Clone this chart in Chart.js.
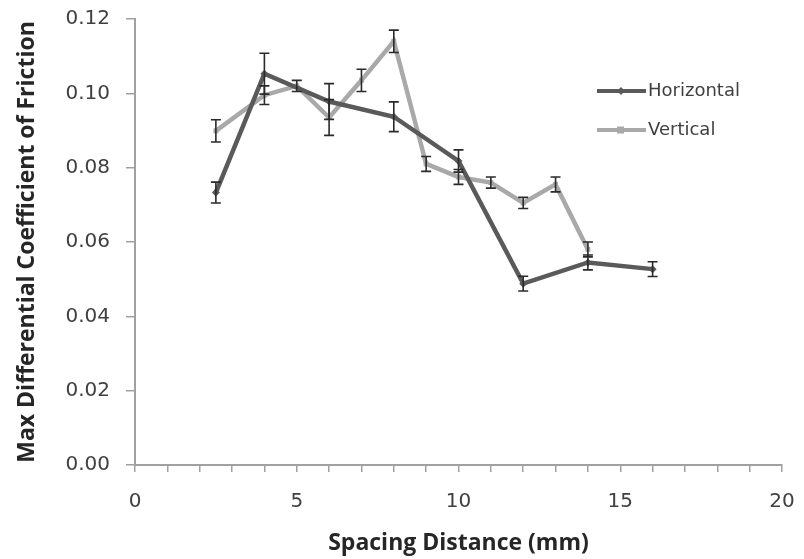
<!DOCTYPE html>
<html>
<head>
<meta charset="utf-8">
<script src="https://cdn.jsdelivr.net/npm/chart.js@4.4.0/dist/chart.umd.min.js"></script>
<style>
  html, body { margin: 0; padding: 0; background: #fff; }
  #wrap { width: 804px; height: 559px; position: relative; }
</style>
</head>
<body>
<div id="wrap"><canvas id="chart"></canvas></div>
<script>
// data
const horizX = [2.5, 4, 6, 8, 10, 12, 14, 16];
const horizY = [0.0733, 0.1053, 0.0978, 0.0937, 0.0818, 0.0488, 0.0545, 0.0527];
const horizErr = [0.0028, 0.0055, 0.0048, 0.0040, 0.0030, 0.0020, 0.0020, 0.0020];

const vertX = [2.5, 4, 5, 6, 7, 8, 9, 10, 11, 12, 13, 14];
const vertY = [0.0899, 0.0995, 0.1020, 0.0935, 0.1035, 0.1140, 0.0810, 0.0775, 0.0760, 0.0705, 0.0755, 0.0580];
const vertErr = [0.0030, 0.0025, 0.0015, 0.0048, 0.0030, 0.0030, 0.0020, 0.0020, 0.0015, 0.0015, 0.0020, 0.0020];

const xTicks = [0, 5, 10, 15, 20];
const yTicks = [0, 0.02, 0.04, 0.06, 0.08, 0.10, 0.12];

const TICK_FONT = "'DejaVu Sans', sans-serif";
const TITLE_FONT = "'Open Sans', sans-serif";
const colors = { Horizontal: "#5a5a5a", Vertical: "#a9a9a9" };

const toPts = (xs, ys) => xs.map((x, i) => ({ x: x, y: ys[i] }));

// error bars drawn from the scales
const errorBars = {
  id: "errorBars",
  afterDatasetsDraw(chart) {
    const ctx = chart.ctx;
    const xs = chart.scales.x, ys = chart.scales.y;
    chart.data.datasets.forEach((ds) => {
      ds.data.forEach((p, i) => {
        const e = ds.errors[i];
        const px = xs.getPixelForValue(p.x);
        const top = ys.getPixelForValue(p.y + e);
        const bot = ys.getPixelForValue(p.y - e);
        ctx.save();
        ctx.strokeStyle = "#2a2a2a";
        ctx.lineWidth = 1.6;
        ctx.beginPath();
        ctx.moveTo(px, top); ctx.lineTo(px, bot);
        ctx.moveTo(px - 5, top); ctx.lineTo(px + 5, top);
        ctx.moveTo(px - 5, bot); ctx.lineTo(px + 5, bot);
        ctx.stroke();
        ctx.restore();
      });
    });
  }
};

// legend sitting inside the plot area like the original
const insideLegend = {
  id: "insideLegend",
  afterDraw(chart) {
    const ctx = chart.ctx;
    const items = [
      { label: "Horizontal", color: colors.Horizontal, style: "rectRot", y: 91 },
      { label: "Vertical", color: colors.Vertical, style: "rect", y: 130 }
    ];
    ctx.save();
    items.forEach((it) => {
      ctx.strokeStyle = it.color;
      ctx.lineWidth = 4;
      ctx.beginPath();
      ctx.moveTo(597, it.y); ctx.lineTo(646, it.y);
      ctx.stroke();
      ctx.fillStyle = it.color;
      if (it.style === "rectRot") {
        ctx.beginPath();
        ctx.moveTo(621, it.y - 4); ctx.lineTo(625, it.y);
        ctx.lineTo(621, it.y + 4); ctx.lineTo(617, it.y);
        ctx.closePath(); ctx.fill();
      } else {
        ctx.fillRect(617, it.y - 3.5, 7, 7);
      }
      ctx.fillStyle = "#404040";
      ctx.font = "18px " + TICK_FONT;
      ctx.textBaseline = "middle";
      ctx.fillText(it.label, 648, it.y);
    });
    ctx.restore();
  }
};

const config = {
  type: "line",
  data: {
    datasets: [
      {
        label: "Horizontal",
        data: toPts(horizX, horizY),
        errors: horizErr,
        borderColor: colors.Horizontal,
        backgroundColor: colors.Horizontal,
        borderWidth: 4.5,
        pointStyle: "rectRot",
        pointRadius: 4,
        pointBorderWidth: 0,
        tension: 0
      },
      {
        label: "Vertical",
        data: toPts(vertX, vertY),
        errors: vertErr,
        borderColor: colors.Vertical,
        backgroundColor: colors.Vertical,
        borderWidth: 4.5,
        pointStyle: "rect",
        pointRadius: 3.5,
        pointBorderWidth: 0,
        tension: 0
      }
    ]
  },
  options: {
    responsive: false,
    animation: false,
    layout: { padding: { top: 19, right: 22, left: 0, bottom: 0 } },
    plugins: {
      legend: { display: false },
      tooltip: { enabled: false }
    },
    scales: {
      x: {
        type: "linear",
        min: 0,
        max: 20,
        afterBuildTicks(scale) {
          const t = [];
          for (let v = 0; v <= 20; v++) t.push({ value: v });
          scale.ticks = t;
        },
        ticks: {
          autoSkip: false,
          maxRotation: 0,
          padding: 18,
          color: "#404040",
          font: { family: TICK_FONT, size: 20 },
          callback: (v) => (xTicks.includes(v) ? String(v) : "")
        },
        grid: {
          drawOnChartArea: false,
          drawTicks: true,
          tickLength: 7,
          color: "#a0a0a0",
          lineWidth: 1.5
        },
        border: { color: "#a0a0a0", width: 2 },
        title: {
          display: true,
          text: "Spacing Distance (mm)",
          color: "#262626",
          font: { family: TITLE_FONT, size: 23, weight: "bold" },
          padding: { top: 0, bottom: 2 }
        },
        afterFit(scale) {
          scale.height = 94;
          scale.paddingLeft = 0;
          scale.paddingRight = 0;
        }
      },
      y: {
        type: "linear",
        min: 0,
        max: 0.12,
        afterBuildTicks(scale) {
          scale.ticks = yTicks.map((v) => ({ value: v }));
        },
        ticks: {
          padding: 16,
          color: "#404040",
          font: { family: TICK_FONT, size: 20 },
          callback: (v) => v.toFixed(2)
        },
        grid: {
          drawOnChartArea: false,
          drawTicks: true,
          tickLength: 9,
          color: "#a0a0a0",
          lineWidth: 1.5
        },
        border: { color: "#a0a0a0", width: 2 },
        title: {
          display: true,
          text: "Max Differential Coefficient of Friction",
          color: "#262626",
          font: { family: TITLE_FONT, size: 23, weight: "bold" },
          padding: { top: 14, bottom: 0 }
        },
        afterFit(scale) {
          scale.width = 135;
          scale.paddingTop = 0;
          scale.paddingBottom = 0;
        }
      }
    }
  },
  plugins: [errorBars, insideLegend]
};

const canvas = document.getElementById("chart");
canvas.width = 804;
canvas.height = 559;
new Chart(canvas, config);
</script>
</body>
</html>
